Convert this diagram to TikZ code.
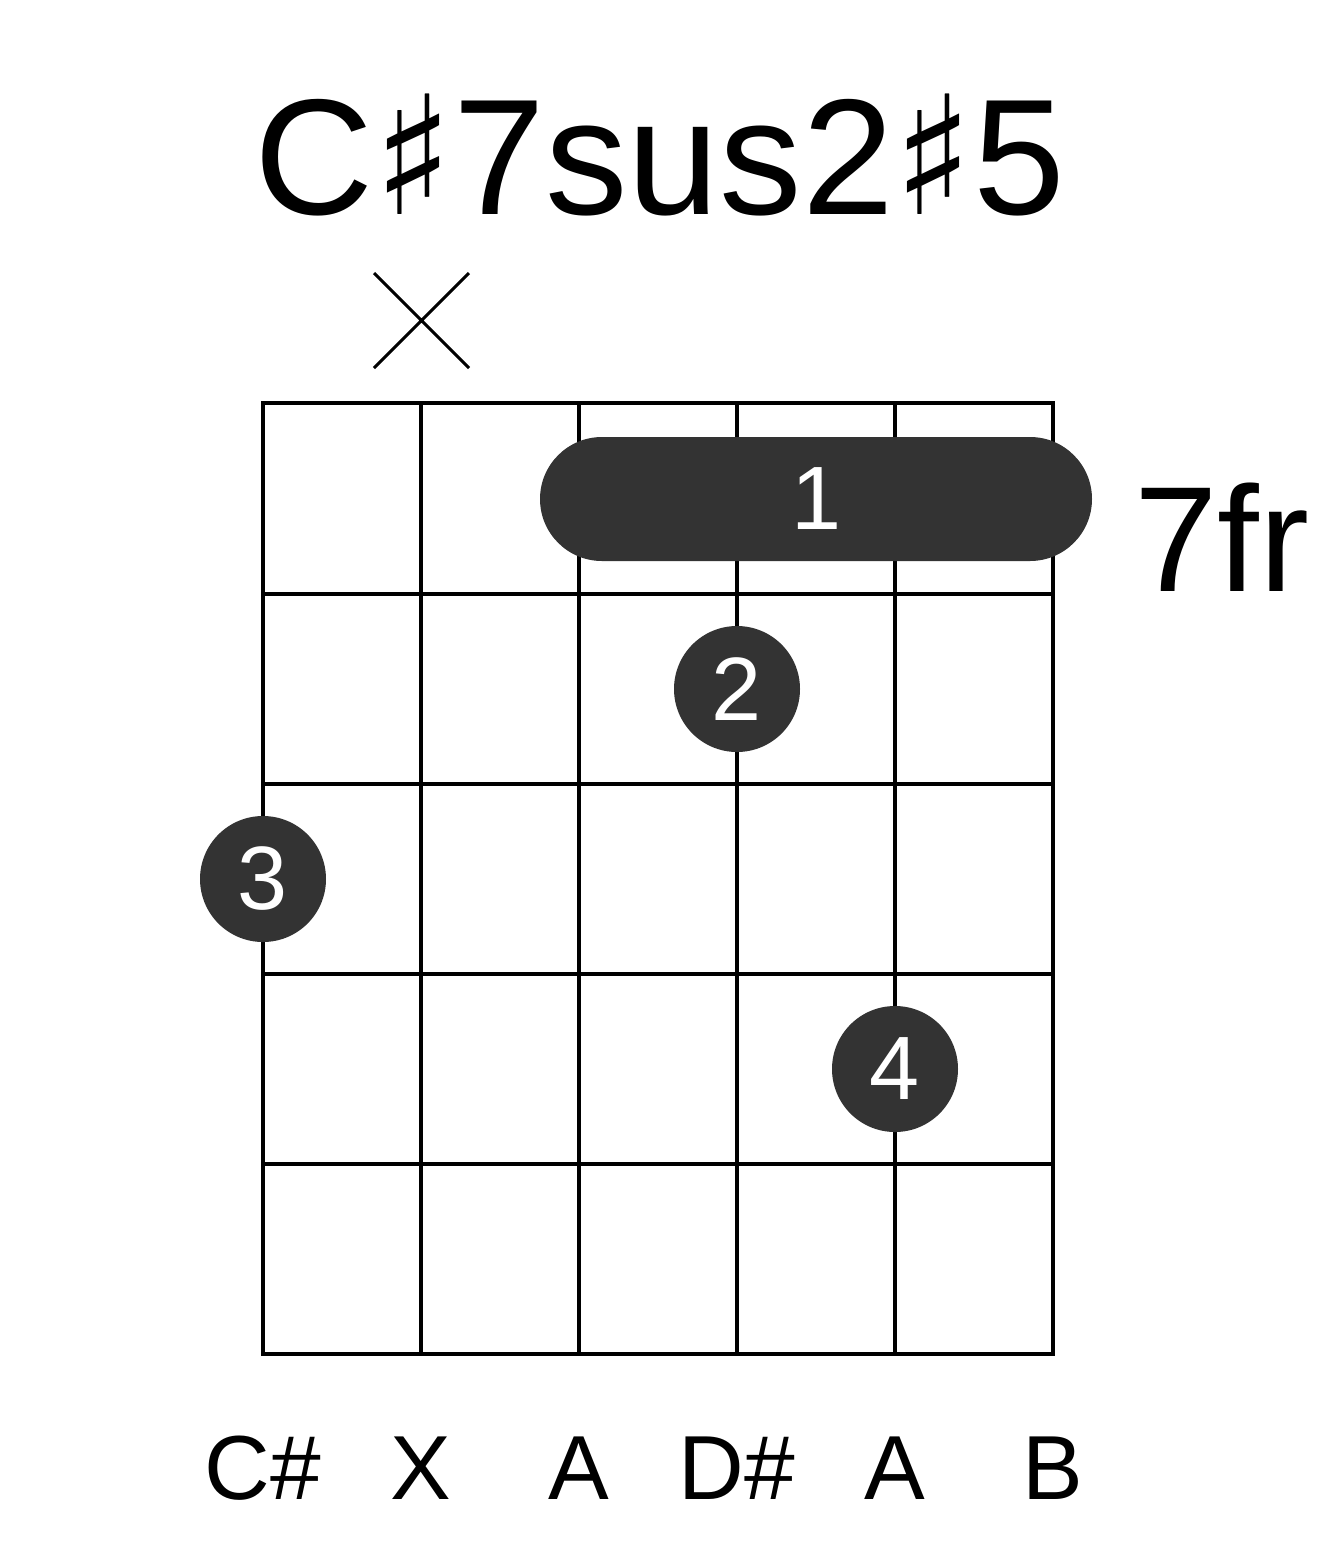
\documentclass[tikz,border=0pt]{standalone}
\usepackage{fontspec}
\setmainfont{Liberation Sans}
\newfontfamily\symf{DejaVu Sans}
\definecolor{dot}{HTML}{333333}
\begin{document}
\begin{tikzpicture}[x=1pt,y=-1pt,
  grid/.style={line width=4pt,black},
  fing/.style={circle,fill=dot,minimum size=126pt,inner sep=0pt,text=white,font=\fontsize{90}{90}\selectfont},
  lbl/.style={font=\fontsize{91}{91}\selectfont}]
\useasboundingbox (0,0) rectangle (1317,1551);
\foreach \x in {263,421,579,737,895,1053} \draw[grid] (\x,403) -- (\x,1354);
\foreach \y in {403,594,784,974,1164,1354} \draw[grid] (261,\y) -- (1055,\y);
\node[font=\fontsize{165}{165}\selectfont] (title) at (660,155) {C{\symf ♯}7sus2{\symf ♯}5};
\draw[line width=3pt] (374,273) -- (469,368) (469,273) -- (374,368);
\fill[dot,rounded corners=62pt] (540,437) rectangle (1092,561);
\node[text=white,font=\fontsize{90}{90}\selectfont] (f1) at (817,499) {1};
\node[fing] (f2) at (737,689) {2};
\node[fing] (f3) at (263,879) {3};
\node[fing] (f4) at (895,1069) {4};
\node[font=\fontsize{150}{150}\selectfont] (fr) at (1222,537) {7fr};
\foreach \x/\t in {263/C\#,421/X,579/A,737/D\#,895/A,1053/B}
  \node[lbl] at (\x,1468) {\t};
\end{tikzpicture}
\end{document}
